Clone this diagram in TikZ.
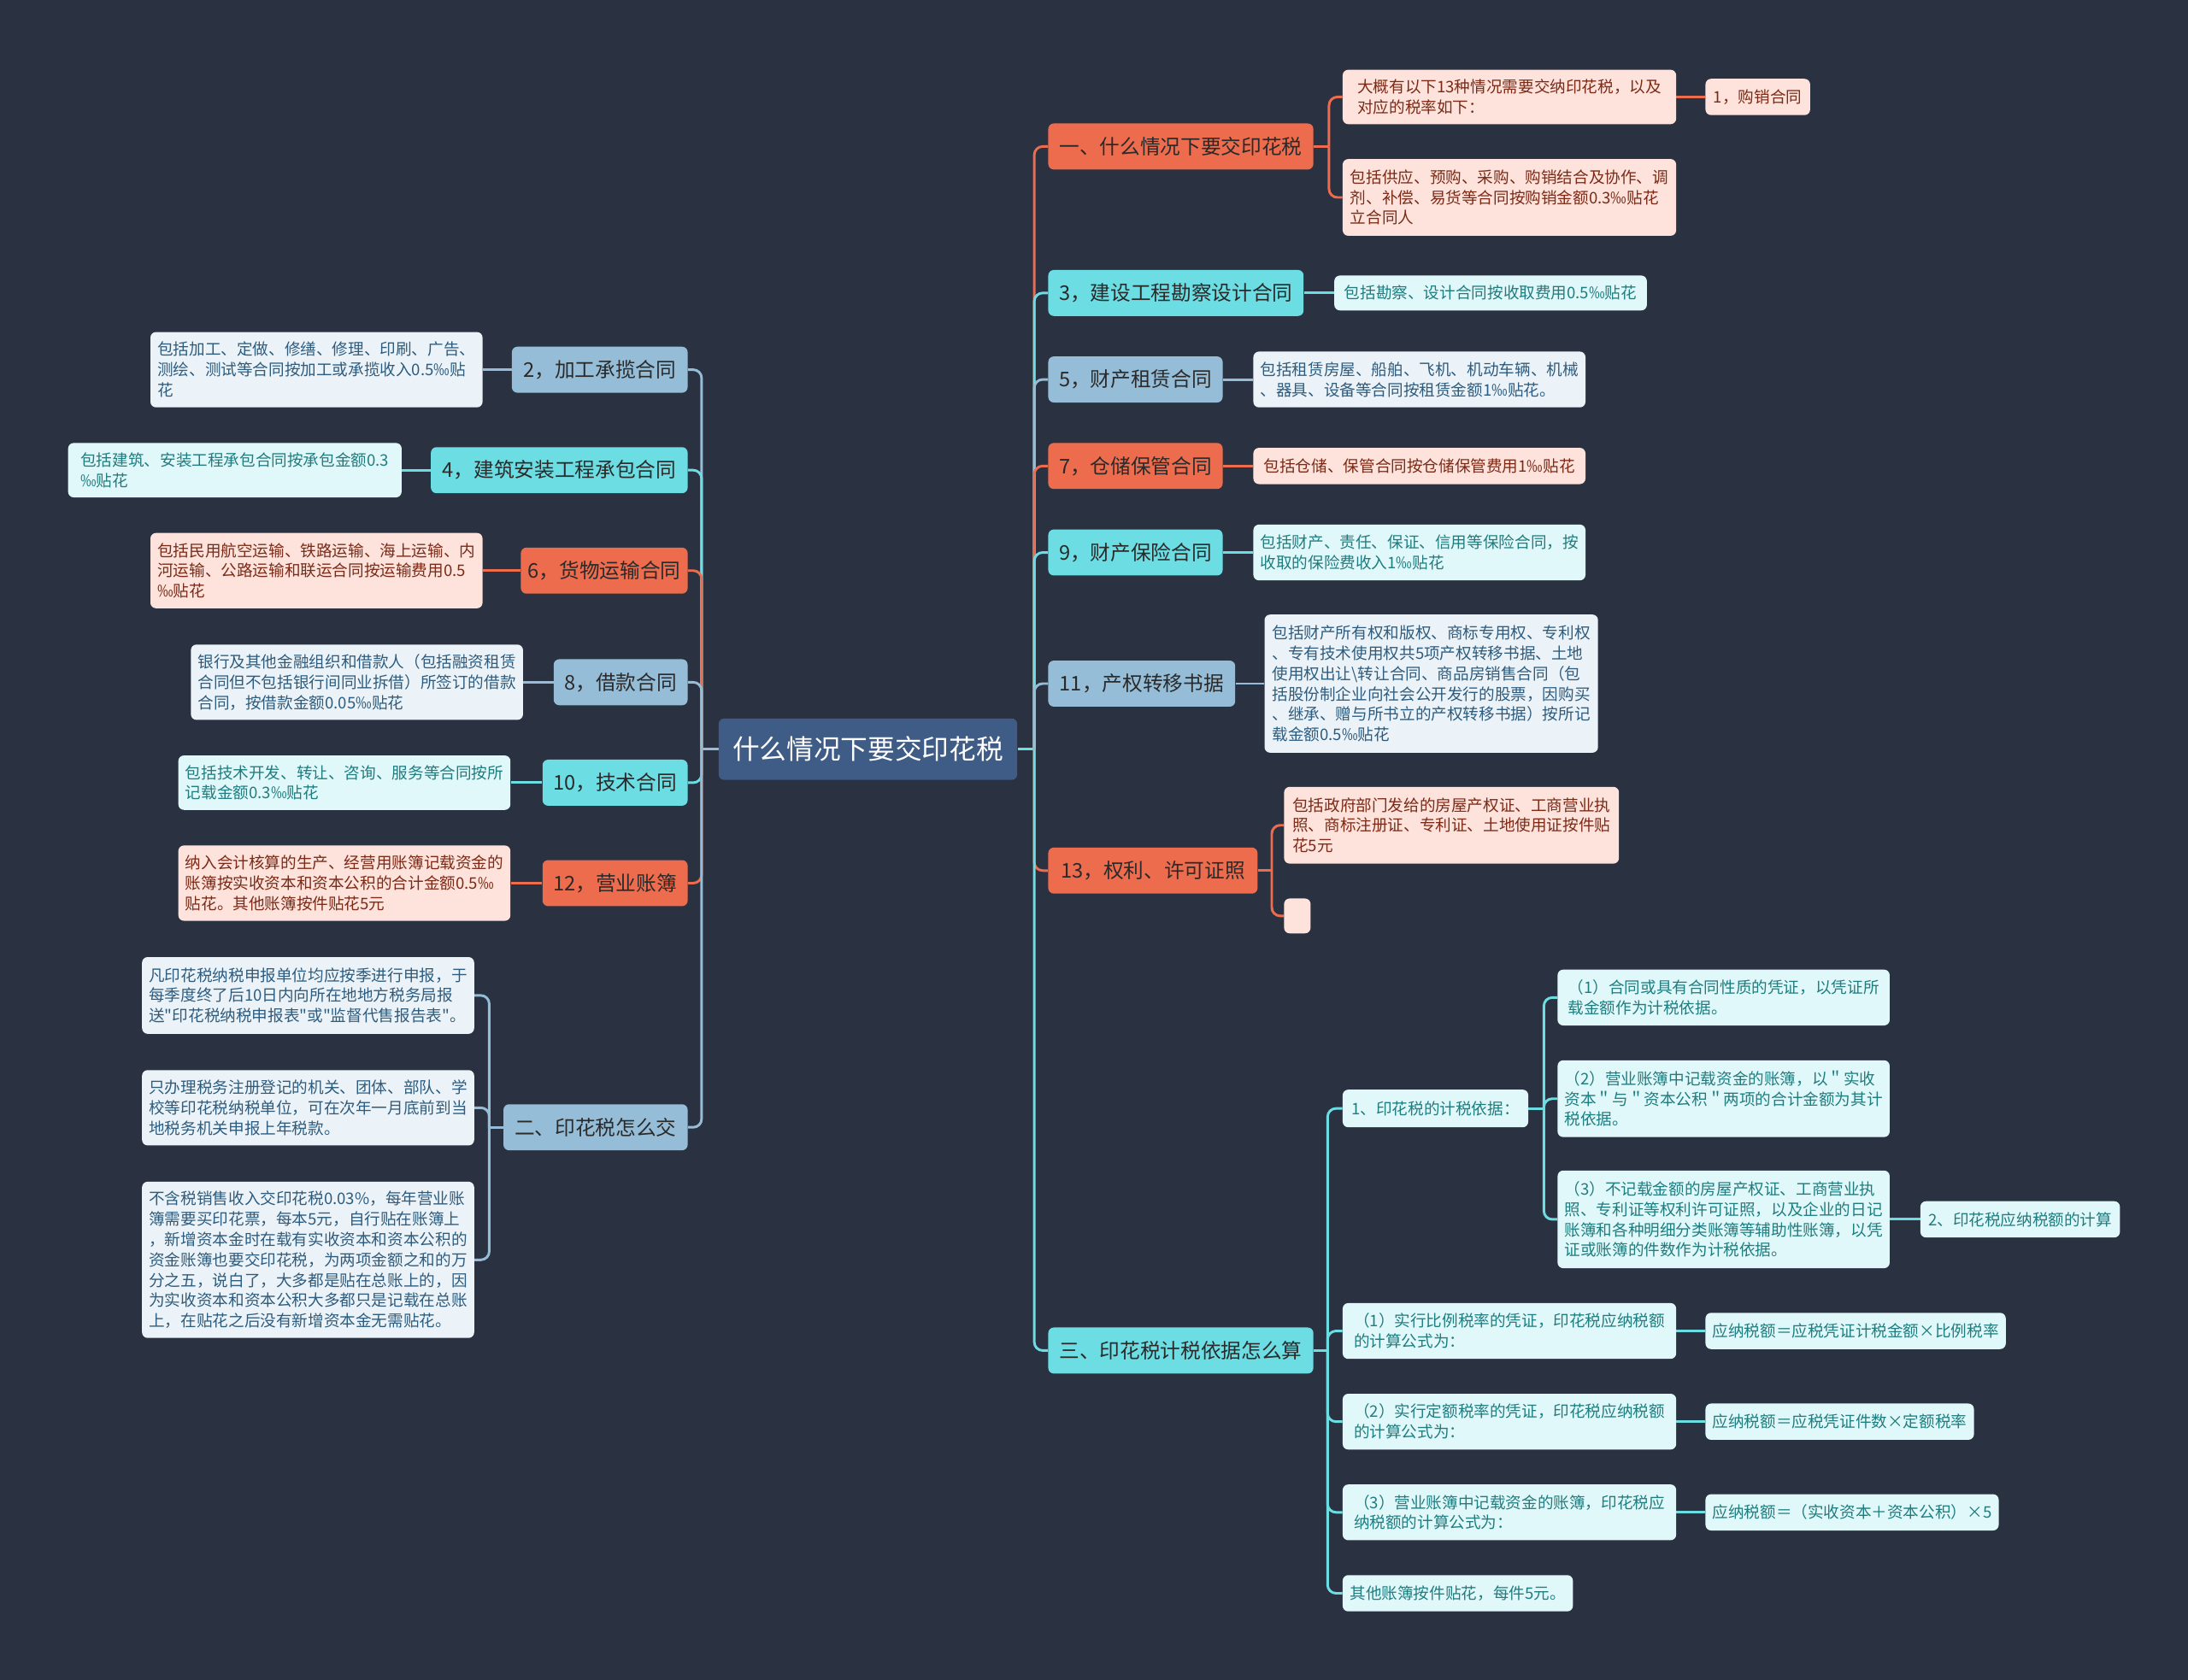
\documentclass[tikz,border=0pt]{standalone}
\usepackage{fontspec}
\setmainfont{Noto Sans CJK SC}
\newfontfamily\plainq{Noto Sans CJK SC}[Ligatures=ResetAll]
\newcommand\sq{{\plainq\symbol{34}}}
\usetikzlibrary{calc}
\definecolor{bgc}{HTML}{2A3140}
\definecolor{cOr}{HTML}{EC6C4D}
\definecolor{cCy}{HTML}{6CDDE3}
\definecolor{cBl}{HTML}{96BDD7}
\definecolor{lOr}{HTML}{FDE3DB}
\definecolor{lCy}{HTML}{E0F8F9}
\definecolor{lBl}{HTML}{EBF3F8}
\definecolor{tOr}{HTML}{7B2A17}
\definecolor{tCy}{HTML}{1F7D80}
\definecolor{tBl}{HTML}{2E5C7E}
\definecolor{rootc}{HTML}{3E5C85}
\definecolor{mtxt}{HTML}{2A2A2A}
\pgfdeclarelayer{back}
\pgfsetlayers{back,main}
\tikzset{
  box/.style={rounded corners=4, inner xsep=5, inner ysep=3, align=left},
  mainbox/.style={box, font=\fontsize{14.5}{17}\selectfont, text=mtxt, minimum height=33, align=center},
  mOr/.style={mainbox, fill=cOr},
  mCy/.style={mainbox, fill=cCy},
  mBl/.style={mainbox, fill=cBl},
  leaf/.style={box, font=\fontsize{11.4}{14.6}\selectfont},
  fOr/.style={leaf, fill=lOr, text=tOr},
  fCy/.style={leaf, fill=lCy, text=tCy},
  fBl/.style={leaf, fill=lBl, text=tBl},
  W/.style={anchor=west, minimum width=#1},
  E/.style={anchor=east, minimum width=#1},
  H/.style={minimum height=#1},
  cn/.style={line width=1.8, rounded corners=6},
}
\begin{document}
\begin{tikzpicture}[x=1pt,y=-1pt]
\useasboundingbox (0,0) rectangle (1568,1204);
\begin{pgfonlayer}{back}
\fill[bgc] (0,0) rectangle (1568,1204);
\end{pgfonlayer}

% root
\node[box, fill=rootc, text=white, font=\fontsize{19.4}{23}\selectfont, minimum width=214, minimum height=44, align=center] (root) at (622,537) {什么情况下要交印花税};

% right main branches
\node[mOr, W=190] (r1) at (751,105) {一、什么情况下要交印花税};
\node[mCy, W=183] (r3) at (751,210) {3，建设工程勘察设计合同};
\node[mBl, W=125] (r5) at (751,272) {5，财产租赁合同};
\node[mOr, W=125] (r7) at (751,334) {7，仓储保管合同};
\node[mCy, W=125] (r9) at (751,396) {9，财产保险合同};
\node[mBl, W=134] (r11) at (751,490) {11，产权转移书据};
\node[mOr, W=150] (r13) at (751,624) {13，权利、许可证照};
\node[mCy, W=190] (r3x) at (751,968) {三、印花税计税依据怎么算};

% right leaves
\node[fOr, W=239, H=39] (r1a) at (962,69.5) {大概有以下13种情况需要交纳印花税，以及\\对应的税率如下：};
\node[fOr, W=75, H=26] (r1a1) at (1222,69.5) {1，购销合同};
\node[fOr, W=239, H=55] (r1b) at (962,141.5) {包括供应、预购、采购、购销结合及协作、调\\剂、补偿、易货等合同按购销金额0.3‰贴花\\立合同人};
\node[fCy, W=224, H=25] (r3a) at (956,210) {包括勘察、设计合同按收取费用0.5‰贴花};
\node[fBl, W=238, H=40] (r5a) at (898,272) {包括租赁房屋、船舶、飞机、机动车辆、机械\\、器具、设备等合同按租赁金额1‰贴花。};
\node[fOr, W=238, H=26] (r7a) at (898,334) {包括仓储、保管合同按仓储保管费用1‰贴花};
\node[fCy, W=238, H=40] (r9a) at (898,396) {包括财产、责任、保证、信用等保险合同，按\\收取的保险费收入1‰贴花};
\node[fBl, W=239, H=99] (r11a) at (906,490) {包括财产所有权和版权、商标专用权、专利权\\、专有技术使用权共5项产权转移书据、土地\\使用权出让\textbackslash 转让合同、商品房销售合同（包\\括股份制企业向社会公开发行的股票，因购买\\、继承、赠与所书立的产权转移书据）按所记\\载金额0.5‰贴花};
\node[fOr, W=240, H=55] (r13a) at (920,591.5) {包括政府部门发给的房屋产权证、工商营业执\\照、商标注册证、专利证、土地使用证按件贴\\花5元};
\node[fOr, W=19, H=25] (r13b) at (920,656.5) {};

\node[fCy, W=133, H=27] (s1) at (962,794.5) {1、印花税的计税依据：};
\node[fCy, W=238, H=40] (s1a) at (1116,715) {（1）合同或具有合同性质的凭证，以凭证所\\载金额作为计税依据。};
\node[fCy, W=238, H=55] (s1b) at (1116,787.5) {（2）营业账簿中记载资金的账簿，以＂实收\\资本＂与＂资本公积＂两项的合计金额为其计\\税依据。};
\node[fCy, W=238, H=70] (s1c) at (1116,874) {（3）不记载金额的房屋产权证、工商营业执\\照、专利证等权利许可证照，以及企业的日记\\账簿和各种明细分类账簿等辅助性账簿，以凭\\证或账簿的件数作为计税依据。};
\node[fCy, W=143, H=26] (s1c1) at (1376,874) {2、印花税应纳税额的计算};
\node[fCy, W=239, H=40] (s2) at (962,954) {（1）实行比例税率的凭证，印花税应纳税额\\的计算公式为：};
\node[fCy, W=214, H=26] (s2a) at (1222,954) {应纳税额＝应税凭证计税金额×比例税率};
\node[fCy, W=239, H=40] (s3) at (962,1019) {（2）实行定额税率的凭证，印花税应纳税额\\的计算公式为：};
\node[fCy, W=190, H=26] (s3a) at (1222,1019) {应纳税额＝应税凭证件数×定额税率};
\node[fCy, W=239, H=40] (s4) at (962,1084) {（3）营业账簿中记载资金的账簿，印花税应\\纳税额的计算公式为：};
\node[fCy, W=208, H=26] (s4a) at (1222,1084) {应纳税额＝（实收资本＋资本公积）×5};
\node[fCy, W=165, H=26] (s5) at (962,1142) {其他账簿按件贴花，每件5元。};

% left main branches
\node[mBl, E=126] (l2) at (493,265) {2，加工承揽合同};
\node[mCy, E=184] (l4) at (493,337) {4，建筑安装工程承包合同};
\node[mOr, E=104] (l6) at (493,409) {6，货物运输合同};
\node[mBl, E=96] (l8) at (493,489) {8，借款合同};
\node[mCy, E=104] (l10) at (493,561) {10，技术合同};
\node[mOr, E=104] (l12) at (493,633) {12，营业账簿};
\node[mBl, E=132] (l2x) at (493,808) {二、印花税怎么交};

% left leaves
\node[fBl, E=238, H=54] (l2a) at (346,265) {包括加工、定做、修缮、修理、印刷、广告、\\测绘、测试等合同按加工或承揽收入0.5‰贴\\花};
\node[fCy, E=239, H=39] (l4a) at (288,337) {包括建筑、安装工程承包合同按承包金额0.3\\‰贴花};
\node[fOr, E=238, H=54] (l6a) at (346,409) {包括民用航空运输、铁路运输、海上运输、内\\河运输、公路运输和联运合同按运输费用0.5\\‰贴花};
\node[fBl, E=238, H=54] (l8a) at (375,489) {银行及其他金融组织和借款人（包括融资租赁\\合同但不包括银行间同业拆借）所签订的借款\\合同，按借款金额0.05‰贴花};
\node[fCy, E=238, H=39] (l10a) at (366,561) {包括技术开发、转让、咨询、服务等合同按所\\记载金额0.3‰贴花};
\node[fOr, E=238, H=54] (l12a) at (366,633) {纳入会计核算的生产、经营用账簿记载资金的\\账簿按实收资本和资本公积的合计金额0.5‰\\贴花。其他账簿按件贴花5元};
\node[fBl, E=238, H=55] (l2xa) at (340,713.5) {凡印花税纳税申报单位均应按季进行申报，于\\每季度终了后10日内向所在地地方税务局报\\送\sq 印花税纳税申报表\sq 或\sq 监督代售报告表\sq 。};
\node[fBl, E=238, H=54] (l2xb) at (340,794) {只办理税务注册登记的机关、团体、部队、学\\校等印花税纳税单位，可在次年一月底前到当\\地税务机关申报上年税款。};
\node[fBl, E=238, H=112] (l2xc) at (340,903) {不含税销售收入交印花税0.03\%，每年营业账\\簿需要买印花票，每本5元，自行贴在账簿上\\，新增资本金时在载有实收资本和资本公积的\\资金账簿也要交印花税，为两项金额之和的万\\分之五，说白了，大多都是贴在总账上的，因\\为实收资本和资本公积大多都只是记载在总账\\上，在贴花之后没有新增资本金无需贴花。};

% junction coordinates
\coordinate (tR) at ($(root.east)+(12,0)$);
\coordinate (tL) at ($(root.west)+(-12,0)$);
\coordinate (j1) at ($(r1.east)+(11,0)$);
\coordinate (j13) at ($(r13.east)+(10,0)$);
\coordinate (j3) at ($(r3x.east)+(10,0)$);
\coordinate (js1) at ($(s1.east)+(11,0)$);
\coordinate (j2) at ($(l2x.west)+(-10,0)$);

\begin{pgfonlayer}{back}
% right trunk
\draw[cn, cCy] (root.east) -- (tR);
\draw[cn, cOr] (tR) |- (r1.west);
\draw[cn, cCy] (tR) |- (r3.west);
\draw[cn, cBl] (tR) |- (r5.west);
\draw[cn, cOr] (tR) |- (r7.west);
\draw[cn, cCy] (tR) |- (r9.west);
\draw[cn, cBl] (tR) |- (r11.west);
\draw[cn, cOr] (tR) |- (r13.west);
\draw[cn, cCy] (tR) |- (r3x.west);
% left trunk
\draw[cn, cBl] (root.west) -- (tL);
\draw[cn, cBl] (tL) |- (l2.east);
\draw[cn, cCy] (tL) |- (l4.east);
\draw[cn, cOr] (tL) |- (l6.east);
\draw[cn, cBl] (tL) |- (l8.east);
\draw[cn, cCy] (tL) |- (l10.east);
\draw[cn, cOr] (tL) |- (l12.east);
\draw[cn, cBl] (tL) |- (l2x.east);
% right leaves
\draw[cn, cOr] (r1.east) -- (j1);
\draw[cn, cOr] (j1) |- (r1a.west);
\draw[cn, cOr] (j1) |- (r1b.west);
\draw[cn, cOr] (r1a.east) -- (r1a1.west);
\draw[cn, cCy] (r3.east) -- (r3a.west);
\draw[cn, cBl] (r5.east) -- (r5a.west);
\draw[cn, cOr] (r7.east) -- (r7a.west);
\draw[cn, cCy] (r9.east) -- (r9a.west);
\draw[cn, cBl] (r11.east) -- (r11a.west);
\draw[cn, cOr] (r13.east) -- (j13);
\draw[cn, cOr] (j13) |- (r13a.west);
\draw[cn, cOr] (j13) |- (r13b.west);
\draw[cn, cCy] (r3x.east) -- (j3);
\draw[cn, cCy] (j3) |- (s1.west);
\draw[cn, cCy] (j3) |- (s2.west);
\draw[cn, cCy] (j3) |- (s3.west);
\draw[cn, cCy] (j3) |- (s4.west);
\draw[cn, cCy] (j3) |- (s5.west);
\draw[cn, cCy] (s1.east) -- (js1);
\draw[cn, cCy] (js1) |- (s1a.west);
\draw[cn, cCy] (js1) |- (s1b.west);
\draw[cn, cCy] (js1) |- (s1c.west);
\draw[cn, cCy] (s1c.east) -- (s1c1.west);
\draw[cn, cCy] (s2.east) -- (s2a.west);
\draw[cn, cCy] (s3.east) -- (s3a.west);
\draw[cn, cCy] (s4.east) -- (s4a.west);
% left leaves
\draw[cn, cBl] (l2.west) -- (l2a.east);
\draw[cn, cCy] (l4.west) -- (l4a.east);
\draw[cn, cOr] (l6.west) -- (l6a.east);
\draw[cn, cBl] (l8.west) -- (l8a.east);
\draw[cn, cCy] (l10.west) -- (l10a.east);
\draw[cn, cOr] (l12.west) -- (l12a.east);
\draw[cn, cBl] (l2x.west) -- (j2);
\draw[cn, cBl] (j2) |- (l2xa.east);
\draw[cn, cBl] (j2) |- (l2xb.east);
\draw[cn, cBl] (j2) |- (l2xc.east);
\end{pgfonlayer}
\end{tikzpicture}
\end{document}
